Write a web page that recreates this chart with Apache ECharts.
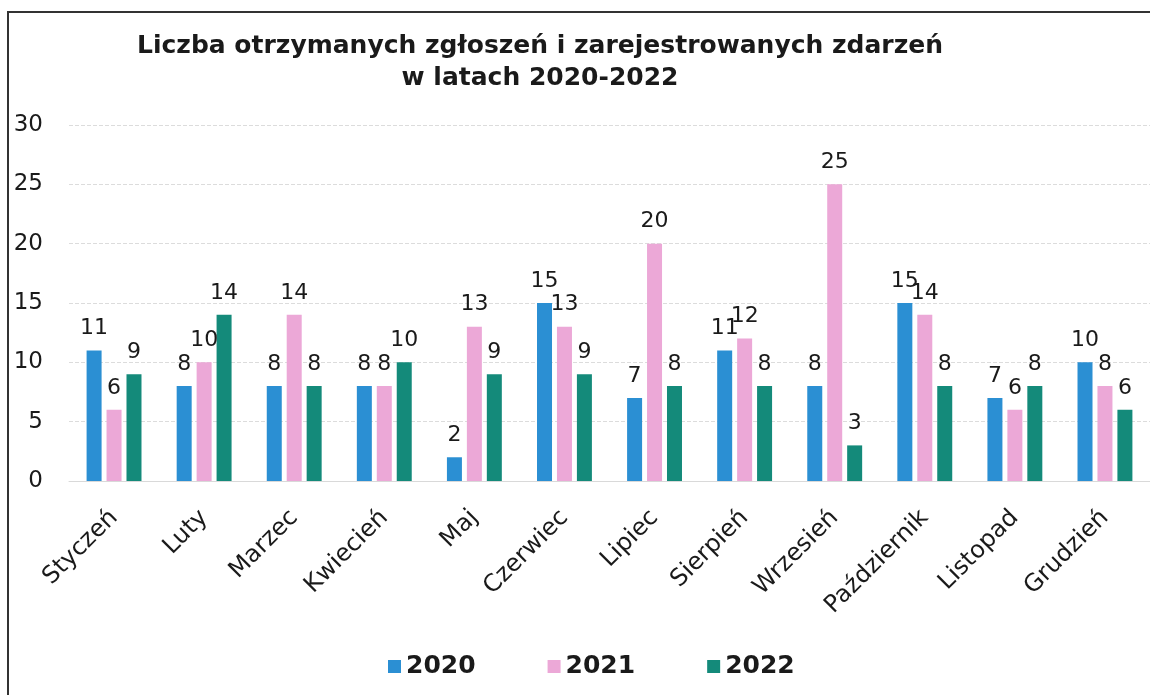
<!DOCTYPE html>
<html>
<head>
<meta charset="utf-8">
<script src="https://cdn.jsdelivr.net/npm/echarts@6/dist/echarts.min.js"></script>
<style>
  html, body { margin: 0; padding: 0; background: #fff; }
  #chart { width: 1150px; height: 695px; }
</style>
</head>
<body>
<div id="chart"></div>
<script>
const months = ['Styczeń', 'Luty', 'Marzec', 'Kwiecień', 'Maj', 'Czerwiec', 'Lipiec',
  'Sierpień', 'Wrzesień', 'Październik', 'Listopad', 'Grudzień'];
const y2020 = [11, 8, 8, 8, 2, 15, 7, 11, 8, 15, 7, 10];
const y2021 = [6, 10, 14, 8, 13, 13, 20, 12, 25, 14, 6, 8];
const y2022 = [9, 14, 8, 10, 9, 9, 8, 8, 3, 8, 8, 6];

const font = 'DejaVu Sans, Verdana, sans-serif';
const colors = ['#2b8fd3', '#eca8d7', '#148a7a'];

const chart = echarts.init(document.getElementById('chart'));

function bar(name, data, color) {
  return {
    name: name,
    type: 'bar',
    data: data,
    barWidth: 15,
    barGap: '33%',
    itemStyle: { color: color },
    label: {
      show: true,
      position: 'top',
      distance: 11,
      color: '#1a1a1a',
      fontFamily: font,
      fontSize: 22
    }
  };
}

chart.setOption({
  animation: false,
  title: {
    text: 'Liczba otrzymanych zgłoszeń i zarejestrowanych zdarzeń\nw latach 2020-2022',
    left: 535,
    textAlign: 'center',
    top: 25,
    textStyle: {
      fontFamily: font,
      fontWeight: 'bold',
      fontSize: 25,
      lineHeight: 32,
      color: '#1a1a1a'
    }
  },
  graphic: [{
    type: 'rect',
    shape: { x: 8, y: 12, width: 1170, height: 700 },
    style: { fill: 'none', stroke: '#333', lineWidth: 2 },
    silent: true
  }],
  legend: {
    left: 383,
    top: 649,
    itemWidth: 13,
    itemHeight: 13,
    itemGap: 72,
    icon: 'rect',
    textStyle: { fontFamily: font, fontWeight: 'bold', fontSize: 25, color: '#1a1a1a' },
    data: ['2020', '2021', '2022']
  },
  grid: { left: 69, right: -7, top: 125, bottom: 214 },
  xAxis: {
    type: 'category',
    data: months,
    axisLine: { lineStyle: { color: '#d9d9d9' } },
    axisTick: { show: false },
    axisLabel: {
      rotate: 45,
      interval: 0,
      margin: 33,
      color: '#1a1a1a',
      fontFamily: font,
      fontSize: 24
    }
  },
  yAxis: {
    type: 'value',
    min: 0,
    max: 30,
    interval: 5,
    axisLine: { show: false },
    axisTick: { show: false },
    axisLabel: { color: '#1a1a1a', fontFamily: font, fontSize: 23, margin: 26 },
    splitLine: { lineStyle: { color: '#dcdcdc', type: 'dashed', width: 1 } }
  },
  series: [
    bar('2020', y2020, colors[0]),
    bar('2021', y2021, colors[1]),
    bar('2022', y2022, colors[2])
  ]
});
</script>
</body>
</html>
